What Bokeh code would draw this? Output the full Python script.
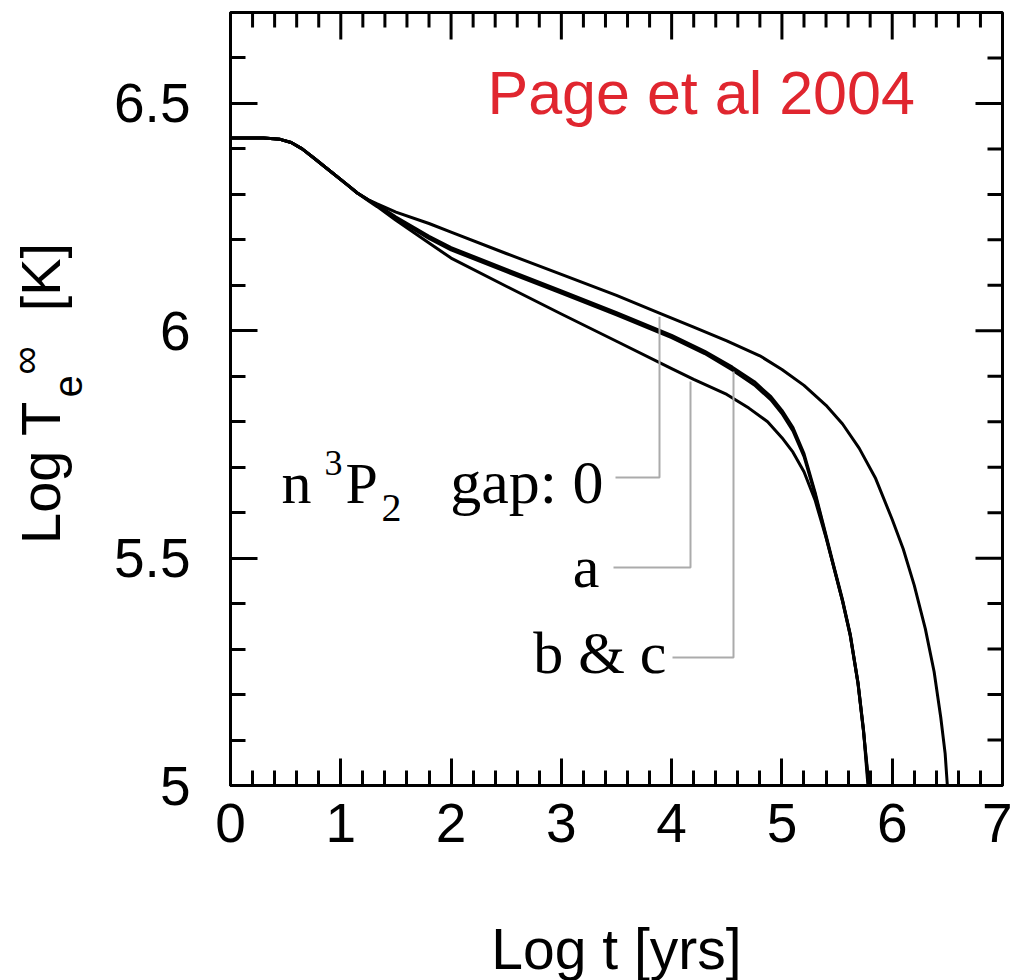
import numpy as np
from bokeh.plotting import figure
from bokeh.layouts import row
from bokeh.models import LinearAxis, Label, Range1d, SingleIntervalTicker, NumeralTickFormatter
from bokeh.embed import file_html
from bokeh.resources import INLINE

# ---- data ----
t_gap0 = [0, 0.3, 0.45, 0.55, 0.65, 0.75, 0.9, 1.06, 1.15, 1.25, 1.33, 1.5, 1.8, 2.0, 2.5, 3.0,
          3.5, 3.9, 4.2, 4.5, 4.8, 5.0, 5.2, 5.4, 5.55, 5.7, 5.85, 6.0, 6.1, 6.2, 6.3, 6.38,
          6.44, 6.48, 6.5]
T_gap0 = [6.424, 6.424, 6.421, 6.414, 6.400, 6.381, 6.352, 6.321, 6.303, 6.288, 6.279, 6.261,
          6.236, 6.217, 6.170, 6.124, 6.078, 6.038, 6.008, 5.978, 5.945, 5.915, 5.880, 5.836,
          5.795, 5.742, 5.675, 5.585, 5.520, 5.440, 5.345, 5.250, 5.150, 5.070, 5.0]

t_gap_a = [0, 0.3, 0.45, 0.55, 0.65, 0.75, 0.9, 1.06, 1.15, 1.25, 1.33, 1.5, 1.8, 2.0, 2.5, 3.0,
           3.5, 4.0, 4.2, 4.5, 4.7, 4.87, 5.0, 5.1, 5.2, 5.3, 5.4, 5.47, 5.55, 5.62, 5.69, 5.74,
           5.78]
T_gap_a = [6.424, 6.424, 6.421, 6.414, 6.400, 6.381, 6.352, 6.321, 6.303, 6.286, 6.273, 6.243,
           6.193, 6.160, 6.098, 6.037, 5.977, 5.917, 5.893, 5.860, 5.830, 5.800, 5.765, 5.733,
           5.690, 5.628, 5.545, 5.480, 5.405, 5.330, 5.225, 5.120, 5.0]

t_gap_b = [0, 0.3, 0.45, 0.55, 0.65, 0.75, 0.9, 1.06, 1.15, 1.25, 1.33, 1.5, 1.8, 2.0, 2.5, 3.0,
           3.5, 4.0, 4.3, 4.55, 4.75, 4.9, 5.0, 5.1, 5.2, 5.3, 5.4, 5.47, 5.55, 5.62, 5.69, 5.74,
           5.785]
T_gap_b = [6.424, 6.424, 6.421, 6.414, 6.400, 6.381, 6.352, 6.321, 6.303, 6.288, 6.277, 6.250,
           6.208, 6.183, 6.135, 6.088, 6.040, 5.990, 5.955, 5.920, 5.888, 5.855, 5.825, 5.787,
           5.730, 5.645, 5.550, 5.483, 5.408, 5.332, 5.226, 5.122, 5.0]

t_gap_c = [0, 0.3, 0.45, 0.55, 0.65, 0.75, 0.9, 1.06, 1.15, 1.25, 1.33, 1.5, 1.8, 2.0, 2.5, 3.0,
           3.5, 4.0, 4.3, 4.55, 4.75, 4.9, 5.0, 5.1, 5.2, 5.3, 5.4, 5.47, 5.55, 5.62, 5.69, 5.74,
           5.79]
T_gap_c = [6.424, 6.424, 6.421, 6.414, 6.400, 6.381, 6.352, 6.321, 6.303, 6.287, 6.276, 6.247,
           6.203, 6.178, 6.130, 6.083, 6.035, 5.985, 5.950, 5.914, 5.881, 5.848, 5.818, 5.780,
           5.724, 5.641, 5.547, 5.480, 5.405, 5.329, 5.223, 5.118, 5.0]

x_tick_step = 1.0
y_tick_step = 0.5
X0, X1, Y0, Y1 = 0.0, 7.0, 5.0, 6.7

# ---- layout constants (pixels) ----
FRAME_L, FRAME_W, FRAME_T, FRAME_H = 230, 772, 12, 773
LEFT_W = 100
TOTAL_H = 975
MAJ_LEN, MIN_LEN = 27, 15


def dx(px):   # page pixel -> data x
    return X0 + (px - FRAME_L) / FRAME_W * (X1 - X0)


def dy(py):   # page pixel -> data y
    return Y0 + (FRAME_T + FRAME_H - py) / FRAME_H * (Y1 - Y0)


BASE_SHIFT = 0.35      # Bokeh draws 'alphabetic' text this many ems lower
ROT_SHIFT = 0.40

p = figure(frame_width=FRAME_W, frame_height=FRAME_H,
           min_border_left=FRAME_L - LEFT_W, min_border_right=10, min_border_top=FRAME_T,
           min_border_bottom=TOTAL_H - FRAME_T - FRAME_H,
           x_range=Range1d(X0, X1), y_range=Range1d(Y0, Y1),
           output_backend="svg", toolbar_location=None,
           x_axis_location=None, y_axis_location=None)
p.grid.visible = False
p.outline_line_color = "black"
p.outline_line_width = 3
p.background_fill_color = "white"
p.border_fill_color = "white"


def style(ax):
    ax.major_tick_in = MAJ_LEN
    ax.major_tick_out = 0
    ax.minor_tick_in = MIN_LEN
    ax.minor_tick_out = 0
    ax.major_tick_line_width = 3
    ax.minor_tick_line_width = 3
    ax.major_tick_line_color = "black"
    ax.minor_tick_line_color = "black"
    ax.axis_line_width = 3
    ax.axis_line_color = "black"
    ax.major_label_text_font = "Liberation Sans"
    ax.major_label_text_font_size = "55px"
    ax.major_label_text_color = "black"


xb = LinearAxis(ticker=SingleIntervalTicker(interval=x_tick_step, num_minor_ticks=5))
style(xb)
xb.major_label_standoff = 18
xb.axis_label = "Log t [yrs]"
xb.axis_label_text_font = "Liberation Sans"
xb.axis_label_text_font_size = "57px"
xb.axis_label_text_font_style = "normal"
xb.axis_label_text_color = "black"
xb.axis_label_standoff = 72
yl = LinearAxis(ticker=SingleIntervalTicker(interval=y_tick_step, num_minor_ticks=5),
                formatter=NumeralTickFormatter(format="0.[0]"))
style(yl)
yl.major_label_standoff = 40
p.add_layout(xb, "below")
p.add_layout(yl, "left")

# inward ticks on the top and right frame edges
kx = (X1 - X0) / FRAME_W
ky = (Y1 - Y0) / FRAME_H
tx = np.round(np.arange(X0 + 0.2, X1 - 0.01, 0.2), 6)
t_major = np.isclose(tx, np.round(tx / x_tick_step) * x_tick_step)
tlen = np.where(t_major, MAJ_LEN, MIN_LEN) * ky
p.segment(x0=tx, y0=np.full_like(tx, Y1), x1=tx, y1=Y1 - tlen, line_color="black", line_width=3)
ty = np.round(np.arange(Y0 + 0.1, Y1 - 0.01, 0.1), 6)
r_major = np.isclose(ty, np.round(ty / y_tick_step) * y_tick_step)
rlen = np.where(r_major, MAJ_LEN, MIN_LEN) * kx
p.segment(x0=np.full_like(ty, X1), y0=ty, x1=X1 - rlen, y1=ty, line_color="black", line_width=3)

# curves
for cx, cy in [(t_gap_c, T_gap_c), (t_gap_b, T_gap_b), (t_gap_a, T_gap_a), (t_gap0, T_gap0)]:
    p.line(cx, cy, line_color="black", line_width=3, line_join="round", line_cap="round")

# leader lines (label end x, curve x, level y in page pixels)
leaders = [(615, 659, 477, t_gap0, T_gap0), (613, 690, 567, t_gap_a, T_gap_a),
           (672, 733, 657, t_gap_b, T_gap_b)]
for xl, xs, yy, cx, cy in leaders:
    ytop = float(np.interp(dx(xs), cx, cy)) - 0.008
    p.line([dx(xl), dx(xs), dx(xs)], [dy(yy), dy(yy), ytop], line_color="#ababab", line_width=2)


def lab(fig, x, y, text, size, font, align="left", angle=0.0, color="black"):
    fig.add_layout(Label(x=x, y=y, text=text, text_font=font, text_font_size=f"{size}px",
                         text_align=align, text_baseline="alphabetic", angle=angle,
                         text_color=color))


def plab(px, base_py, text, size, font, align="left", color="black"):
    lab(p, dx(px), dy(base_py - BASE_SHIFT * size), text, size, font, align, 0.0, color)


serif = "Liberation Serif"
plab(281, 503, "n", 60, serif)
plab(324, 475, "3", 36, serif)
plab(345, 503, "P", 58, serif)
plab(381, 521, "2", 40, serif)
plab(603, 503, "gap: 0", 62, serif, align="right")
plab(599, 587, "a", 60, serif, align="right")
plab(666, 673, "b & c", 60, serif, align="right")
plab(487, 114, "Page et al 2004", 61, "Liberation Sans", color="#e0262f")

# ---- left strip holding the rotated y-axis title (its frame aligns with the main frame) ----
q = figure(width=LEFT_W, height=TOTAL_H, x_range=Range1d(0, LEFT_W),
           y_range=Range1d(FRAME_T + FRAME_H, FRAME_T),
           min_border=0, min_border_left=0, min_border_right=0,
           min_border_top=FRAME_T, min_border_bottom=TOTAL_H - FRAME_T - FRAME_H,
           output_backend="svg", toolbar_location=None,
           x_axis_location=None, y_axis_location=None)
q.grid.visible = False
q.outline_line_color = None
q.background_fill_color = "white"
q.border_fill_color = "white"

ang = np.pi / 2
sans = "Liberation Sans"
lab(q, 62 - ROT_SHIFT * 56, 549, "Log T", 56, sans, angle=ang)
lab(q, 83 - ROT_SHIFT * 40, 401, "e", 40, sans, angle=ang)
lab(q, 40 - ROT_SHIFT * 40, 378, "\u221e", 40, sans, angle=ang)
lab(q, 62 - ROT_SHIFT * 56, 314, "[K]", 56, sans, angle=ang)

layout = row(q, p, spacing=0)
open("out.html", "w").write(file_html(layout, INLINE))
